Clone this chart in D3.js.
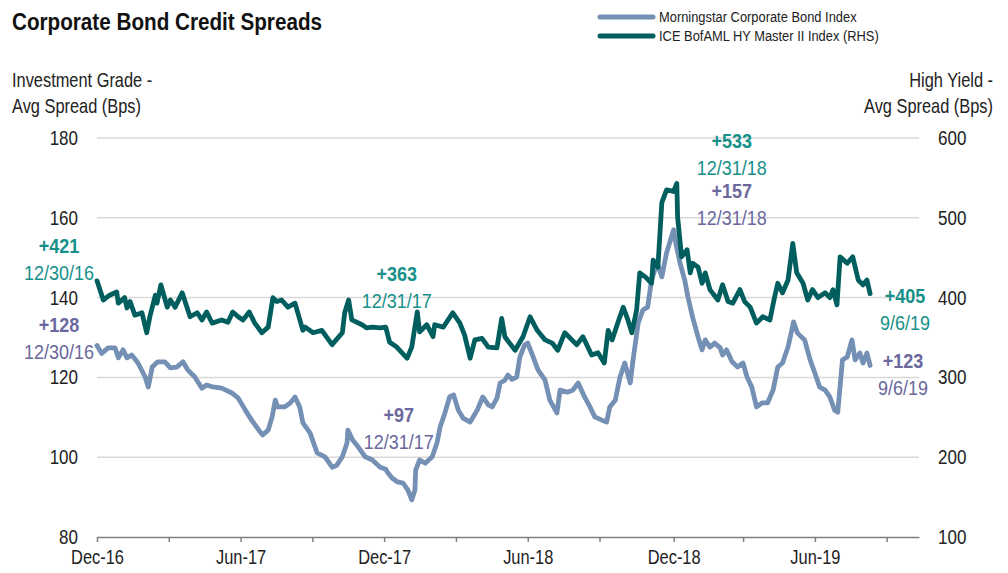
<!DOCTYPE html>
<html>
<head>
<meta charset="utf-8">
<script src="https://cdn.jsdelivr.net/npm/d3@7"></script>
<style>
  body { margin: 0; background: #fff; }
  text { font-family: "Liberation Sans", Arial, sans-serif; }
</style>
</head>
<body>
<div id="chart"></div>
<script>
// Morningstar Corporate Bond Index (LHS), bps
const igDates = ["2016-12-30","2017-01-05","2017-01-13","2017-01-22","2017-01-26","2017-02-01","2017-02-06","2017-02-12","2017-02-20","2017-03-01","2017-03-05","2017-03-10","2017-03-17","2017-03-26","2017-04-02","2017-04-10","2017-04-18","2017-04-24","2017-05-03","2017-05-12","2017-05-18","2017-05-26","2017-06-06","2017-06-19","2017-06-27","2017-07-06","2017-07-14","2017-07-25","2017-07-28","2017-08-04","2017-08-09","2017-08-13","2017-08-16","2017-08-25","2017-09-01","2017-09-07","2017-09-13","2017-09-17","2017-09-26","2017-10-05","2017-10-15","2017-10-24","2017-10-30","2017-11-06","2017-11-12","2017-11-13","2017-11-19","2017-11-26","2017-12-05","2017-12-14","2017-12-24","2017-12-31","2018-01-02","2018-01-08","2018-01-15","2018-01-22","2018-01-28","2018-02-02","2018-02-06","2018-02-07","2018-02-12","2018-02-19","2018-02-28","2018-03-06","2018-03-10","2018-03-16","2018-03-22","2018-03-27","2018-04-02","2018-04-08","2018-04-17","2018-04-26","2018-05-03","2018-05-10","2018-05-15","2018-05-21","2018-05-25","2018-05-31","2018-06-04","2018-06-09","2018-06-15","2018-06-19","2018-06-25","2018-06-29","2018-07-06","2018-07-12","2018-07-21","2018-07-27","2018-08-05","2018-08-09","2018-08-18","2018-08-25","2018-09-01","2018-09-09","2018-09-16","2018-09-22","2018-10-01","2018-10-07","2018-10-11","2018-10-18","2018-10-24","2018-10-30","2018-11-06","2018-11-09","2018-11-16","2018-11-22","2018-11-28","2018-12-03","2018-12-10","2018-12-16","2018-12-22","2018-12-31","2019-01-02","2019-01-08","2019-01-14","2019-01-18","2019-01-24","2019-01-31","2019-02-05","2019-02-09","2019-02-15","2019-02-21","2019-02-28","2019-03-03","2019-03-08","2019-03-15","2019-03-22","2019-03-29","2019-04-03","2019-04-09","2019-04-15","2019-04-22","2019-04-29","2019-05-06","2019-05-12","2019-05-18","2019-05-25","2019-06-01","2019-06-06","2019-06-15","2019-06-22","2019-06-28","2019-07-04","2019-07-11","2019-07-17","2019-07-23","2019-07-27","2019-08-02","2019-08-08","2019-08-14","2019-08-18","2019-08-24","2019-08-28","2019-09-02","2019-09-06"];
const igValues = [128,126,127.4,127.4,124.9,126.9,124.9,125.6,123.6,120.1,117.6,122.6,123.9,123.9,122.4,122.6,123.9,121.9,120.1,117.3,118.1,117.6,117.3,116.1,114.8,111.8,109.3,106.3,105.6,106.8,110.1,114.3,112.6,112.6,113.6,115.1,112.6,108.6,106.1,101.1,100.1,97.5,98,100.1,103.6,106.8,104.3,102.6,100.1,99.3,97.5,97,96.3,94.8,93.8,93.5,91.8,89.3,91.8,96.8,99.3,98.5,100.1,103.6,107.6,111.1,115.1,115.6,111.8,109.8,108.8,111.8,115.1,113.1,112.6,114.8,118.6,119.3,120.6,119.5,120.1,125.1,128.1,128.6,125.1,121.9,119.3,114.3,111.1,116.8,116.3,116.8,118.6,115.1,112.6,110.1,109.3,108.8,112.6,114.3,120.1,123.6,118.6,123.6,133.6,136.9,137.6,144.4,148.7,145.2,151.2,157,154.4,148.7,144.4,140.2,135.1,130.1,126.9,129.4,127.6,128.6,127.4,125.6,126.9,123.9,122.6,123.6,120.1,117.6,112.6,113.6,113.6,116.8,122.6,123.6,127.6,133.9,131.1,129.4,124.4,121.1,117.6,116.8,115.1,111.8,111.3,124.4,125.1,129.4,124.4,126.1,123.6,126.1,123];

// ICE BofAML HY Master II Index (RHS), bps
const hyDates = ["2016-12-30","2017-01-07","2017-01-15","2017-01-24","2017-01-26","2017-02-03","2017-02-06","2017-02-10","2017-02-16","2017-02-25","2017-03-03","2017-03-07","2017-03-14","2017-03-16","2017-03-21","2017-03-29","2017-04-02","2017-04-08","2017-04-17","2017-04-27","2017-05-06","2017-05-12","2017-05-18","2017-05-25","2017-06-06","2017-06-14","2017-06-20","2017-06-27","2017-07-03","2017-07-11","2017-07-18","2017-07-27","2017-08-04","2017-08-10","2017-08-15","2017-08-21","2017-08-29","2017-09-07","2017-09-17","2017-09-20","2017-09-30","2017-10-11","2017-10-24","2017-11-06","2017-11-09","2017-11-14","2017-11-18","2017-12-01","2017-12-07","2017-12-14","2017-12-24","2017-12-31","2018-01-05","2018-01-14","2018-01-27","2018-02-02","2018-02-09","2018-02-12","2018-02-21","2018-03-01","2018-03-03","2018-03-14","2018-03-26","2018-04-04","2018-04-10","2018-04-17","2018-04-23","2018-05-02","2018-05-10","2018-05-21","2018-05-27","2018-05-31","2018-06-06","2018-06-13","2018-06-23","2018-07-02","2018-07-11","2018-07-21","2018-07-30","2018-08-06","2018-08-15","2018-08-24","2018-08-30","2018-09-07","2018-09-18","2018-09-26","2018-10-04","2018-10-09","2018-10-14","2018-10-21","2018-10-28","2018-11-03","2018-11-08","2018-11-14","2018-11-18","2018-11-25","2018-12-03","2018-12-05","2018-12-11","2018-12-16","2018-12-22","2018-12-31","2019-01-04","2019-01-05","2019-01-10","2019-01-17","2019-01-21","2019-01-24","2019-01-31","2019-02-05","2019-02-09","2019-02-15","2019-02-25","2019-03-03","2019-03-10","2019-03-16","2019-03-25","2019-03-31","2019-04-07","2019-04-15","2019-04-23","2019-05-02","2019-05-08","2019-05-12","2019-05-18","2019-05-25","2019-05-31","2019-06-05","2019-06-13","2019-06-19","2019-06-25","2019-07-02","2019-07-11","2019-07-17","2019-07-21","2019-07-26","2019-07-30","2019-08-08","2019-08-15","2019-08-22","2019-08-28","2019-09-02","2019-09-06"];
const hyValues = [421,397,403,407,393,400,387,395,378,381,356,376,403,393,416,388,397,388,406,376,381,372,382,368,372,369,382,376,372,382,368,356,363,400,395,397,388,393,359,363,356,359,341,356,381,397,372,366,362,363,362,363,344,338,324,338,382,357,366,351,366,363,381,368,353,324,347,349,338,337,374,351,343,334,351,376,359,347,343,334,356,347,341,351,328,331,318,359,347,368,388,372,356,384,431,426,418,447,438,519,535,533,543,501,451,460,431,443,438,418,431,410,397,416,395,393,410,395,388,368,376,372,401,418,406,422,468,431,418,397,410,400,406,400,410,391,451,443,451,422,416,422,405];

// x axis ticks (quarter ends) and their labels
const tickDates = ["2016-12-30","2017-03-31","2017-06-30","2017-09-29","2017-12-29","2018-03-30","2018-06-29","2018-09-28","2018-12-31","2019-03-29","2019-06-28","2019-09-27"];
const tickLabels = ["Dec-16","","Jun-17","","Dec-17","","Jun-18","","Dec-18","","Jun-19",""];
const leftTicks = [80, 100, 120, 140, 160, 180];
const rightTicks = [100, 200, 300, 400, 500, 600];

// callouts: series, anchor date, label lines
const notes = [
  { s: "hy", date: "2016-12-30", text: ["+421", "12/30/16"], dx: -38, y: 253 },
  { s: "ig", date: "2016-12-30", text: ["+128", "12/30/16"], dx: -38, y: 332 },
  { s: "hy", date: "2017-12-31", text: ["+363", "12/31/17"], dx: 11, y: 281 },
  { s: "ig", date: "2017-12-31", text: ["+97", "12/31/17"], dx: 13, y: 422 },
  { s: "hy", date: "2018-12-31", text: ["+533", "12/31/18"], dx: 58, y: 148 },
  { s: "ig", date: "2018-12-31", text: ["+157", "12/31/18"], dx: 58, y: 198 },
  { s: "hy", date: "2019-09-06", text: ["+405", "9/6/19"], dx: 35, y: 303 },
  { s: "ig", date: "2019-09-06", text: ["+123", "9/6/19"], dx: 33, y: 368 }
];

const W = 1008, H = 573;
const margin = { top: 138, right: 89, bottom: 36, left: 97 };
const width = W - margin.left - margin.right;
const height = H - margin.top - margin.bottom;

const igColor = "#7590b5", hyColor = "#005f5e";
const hyText = "#17908a", igText = "#6b689e";

// squeeze text to mimic the condensed face of the original
function condense(sel, k) {
  sel.each(function () {
    const w = this.getComputedTextLength();
    if (w > 0) d3.select(this).attr("textLength", w * k).attr("lengthAdjust", "spacingAndGlyphs");
  });
}

const parse = d3.timeParse("%Y-%m-%d");
const ig = igDates.map((d, i) => ({ date: parse(d), value: igValues[i] }));
const hy = hyDates.map((d, i) => ({ date: parse(d), value: hyValues[i] }));

const x = d3.scaleTime().domain([parse("2016-12-30"), parse("2019-11-07")]).range([0, width]);
const yL = d3.scaleLinear().domain([80, 180]).range([height, 0]);
const yR = d3.scaleLinear().domain([100, 600]).range([height, 0]);

const svg = d3.select("#chart").append("svg")
    .attr("width", W)
    .attr("height", H);

const g = svg.append("g")
    .attr("transform", `translate(${margin.left}, ${margin.top})`);

// title
svg.append("text")
  .attr("x", 12).attr("y", 30)
  .style("font-size", "23px").style("font-weight", "bold")
  .attr("fill", "#111")
  .attr("textLength", 310).attr("lengthAdjust", "spacingAndGlyphs")
  .text("Corporate Bond Credit Spreads");

// axis titles, narrowed with a horizontal scale
const titles = svg.append("g").attr("fill", "#222").style("font-size", "20px");
[["Investment Grade -", 12, 87, "start"], ["Avg Spread (Bps)", 12, 113, "start"],
 ["High Yield -", 993, 87, "end"], ["Avg Spread (Bps)", 993, 113, "end"]]
  .forEach(d => {
    titles.append("text")
      .attr("transform", `translate(${d[1]}, ${d[2]}) scale(0.82, 1)`)
      .attr("text-anchor", d[3])
      .text(d[0]);
  });

// legend
const legend = svg.append("g").attr("transform", "translate(600, 17)");
[["Morningstar Corporate Bond Index", igColor], ["ICE BofAML HY Master II Index (RHS)", hyColor]].forEach((d, i) => {
  legend.append("line")
    .attr("x1", 0).attr("x2", 53).attr("y1", i * 19).attr("y2", i * 19)
    .attr("stroke", d[1]).attr("stroke-width", 5).attr("stroke-linecap", "round");
  legend.append("text")
    .attr("x", 59).attr("y", i * 19 + 5)
    .style("font-size", "14px").attr("fill", "#222")
    .text(d[0]);
});
condense(legend.selectAll("text"), 0.92);

// gridlines
g.append("g")
  .selectAll("line")
  .data(leftTicks.filter(d => d > 80))
  .join("line")
    .attr("x1", 0).attr("x2", width)
    .attr("y1", d => yL(d)).attr("y2", d => yL(d))
    .attr("stroke", "#d9d9d9").attr("stroke-width", 1.5);

// left axis
const axL = g.append("g")
  .call(d3.axisLeft(yL).tickValues(leftTicks).tickSize(0).tickPadding(19));
axL.select(".domain").remove();
axL.selectAll("text").style("font-size", "20px").attr("fill", "#222");
condense(axL.selectAll("text"), 0.85);

// right axis
const axR = g.append("g")
  .attr("transform", `translate(${width}, 0)`)
  .call(d3.axisRight(yR).tickValues(rightTicks).tickSize(0).tickPadding(19));
axR.select(".domain").remove();
axR.selectAll("text").style("font-size", "20px").attr("fill", "#222");
condense(axR.selectAll("text"), 0.85);

// bottom axis
const axB = g.append("g")
  .attr("transform", `translate(0, ${height})`)
  .call(d3.axisBottom(x)
    .tickValues(tickDates.map(parse))
    .tickSize(5)
    .tickSizeOuter(0)
    .tickPadding(8)
    .tickFormat((d, i) => tickLabels[i]));
axB.select(".domain").attr("stroke", "#7f7f7f").attr("stroke-width", 1.5);
axB.selectAll(".tick line").attr("stroke", "#7f7f7f").attr("stroke-width", 1.5);
axB.selectAll("text").style("font-size", "20px").attr("fill", "#222");
condense(axB.selectAll("text"), 0.82);

// lines
const lineIG = d3.line().x(d => x(d.date)).y(d => yL(d.value));
const lineHY = d3.line().x(d => x(d.date)).y(d => yR(d.value));

g.append("path")
  .datum(ig)
  .attr("fill", "none")
  .attr("stroke", igColor)
  .attr("stroke-width", 4.8)
  .attr("stroke-linejoin", "round")
  .attr("stroke-linecap", "round")
  .attr("d", lineIG);

g.append("path")
  .datum(hy)
  .attr("fill", "none")
  .attr("stroke", hyColor)
  .attr("stroke-width", 4.8)
  .attr("stroke-linejoin", "round")
  .attr("stroke-linecap", "round")
  .attr("d", lineHY);

// callouts
notes.forEach(n => {
  const cx = margin.left + x(parse(n.date)) + n.dx;
  const col = n.s === "hy" ? hyText : igText;
  const a = svg.append("text")
    .attr("x", cx).attr("y", n.y)
    .attr("text-anchor", "middle").attr("fill", col)
    .style("font-size", "20px").style("font-weight", "bold")
    .text(n.text[0]);
  const b = svg.append("text")
    .attr("x", cx).attr("y", n.y + 27)
    .attr("text-anchor", "middle").attr("fill", col)
    .style("font-size", "20px")
    .text(n.text[1]);
  condense(a, 0.9);
  condense(b, 0.9);
});
</script>
</body>
</html>
